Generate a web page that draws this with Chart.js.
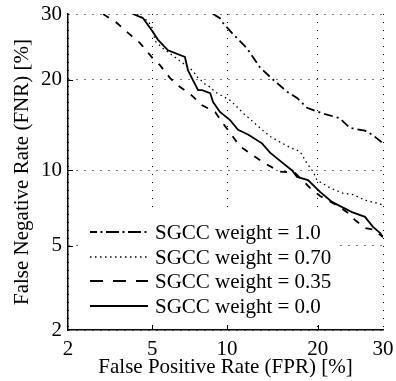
<!DOCTYPE html>
<html><head><meta charset="utf-8">
<script src="https://cdn.jsdelivr.net/npm/chart.js@4/dist/chart.umd.min.js"></script>
<style>html,body{margin:0;padding:0;background:#fff;}#wrap{width:396px;height:381px;}</style>
</head><body><div id="wrap"><canvas id="c" width="396" height="381"></canvas></div>
<script>
// ---- data (percent) ----
const tickValues = [2, 5, 10, 20, 30];
const tickLabels = ['2', '5', '10', '20', '30'];
const seriesLabels = ['SGCC weight = 1.0', 'SGCC weight = 0.70', 'SGCC weight = 0.35', 'SGCC weight = 0.0'];

const fprW100 = [8.86, 9.41, 9.66, 10.52, 11.8, 13.1, 14.39, 16.11, 17.32, 18.59, 20.74, 23.1, 24.68, 25.8, 27.03, 28.16, 29.2, 30.0];
const fnrW100 = [30.0, 29.3, 28.5, 26.7, 24.5, 21.7, 20.1, 18.4, 17.6, 16.4, 15.7, 15.2, 14.1, 13.95, 13.8, 13.4, 12.9, 12.5];

const fprW70 = [4.28, 4.8, 5.0, 5.15, 5.55, 6.56, 7.4, 7.7, 8.3, 8.64, 9.02, 9.66, 10.26, 10.88, 11.62, 11.9, 13.31, 14.17, 14.94, 16.46, 17.7, 18.59, 19.38, 19.91, 21.72, 23.6, 25.14, 27.03, 28.98, 30.0];
const fnrW70 = [30.0, 28.8, 27.7, 25.6, 24.5, 22.6, 21.2, 20.35, 19.3, 19.0, 18.35, 17.8, 17.3, 16.5, 15.55, 15.3, 13.9, 13.2, 12.8, 12.1, 11.7, 10.6, 9.9, 9.2, 8.6, 8.2, 8.1, 7.7, 7.5, 7.37];

const fprW35 = [2.98, 3.47, 3.90, 4.42, 4.80, 5.0, 5.40, 5.96, 6.56, 7.2, 8.04, 9.02, 9.66, 10.26, 11.15, 12.3, 13.63, 15.29, 17.07, 18.97, 20.33, 22.15, 24.22, 25.47, 27.03, 28.33, 30.0];
const fnrW35 = [30.0, 28.5, 26.9, 25.3, 23.8, 23.1, 22.0, 20.2, 19.0, 18.1, 16.7, 15.9, 14.6, 13.57, 12.2, 11.4, 10.6, 9.9, 9.8, 8.6, 8.0, 7.5, 6.9, 6.4, 5.94, 5.85, 5.44];

const fprW0 = [4.11, 4.56, 5.0, 5.3, 5.84, 6.86, 7.06, 7.4, 7.75, 8.04, 8.64, 8.86, 9.41, 10.26, 10.97, 11.9, 13.31, 14.17, 15.51, 16.71, 17.32, 18.71, 20.33, 22.0, 23.48, 24.99, 27.03, 28.33, 29.49, 30.0];
const fnrW0 = [30.0, 29.3, 27.2, 25.8, 24.2, 23.2, 21.3, 19.9, 18.6, 18.6, 18.2, 17.1, 15.9, 14.97, 13.9, 13.4, 12.5, 11.6, 10.7, 10.0, 9.46, 9.2, 8.3, 7.58, 7.23, 6.9, 6.6, 6.0, 5.66, 5.44];

// ---- normal deviate (probit) transform for DET axes ----
function probit(p) {
  const a = [-3.969683028665376e+01, 2.209460984245205e+02, -2.759285104469687e+02, 1.383577518672690e+02, -3.066479806614716e+01, 2.506628277459239e+00];
  const b = [-5.447609879822406e+01, 1.615858368580409e+02, -1.556989798598866e+02, 6.680131188771972e+01, -1.328068155288572e+01];
  const c = [-7.784894002430293e-03, -3.223964580411365e-01, -2.400758277161838e+00, -2.549732539343734e+00, 4.374664141464968e+00, 2.938163982698783e+00];
  const d = [7.784695709041462e-03, 3.224671290700398e-01, 2.445134137142996e+00, 3.754408661907416e+00];
  const pl = 0.02425, ph = 1 - pl;
  let q, r;
  if (p < pl) { q = Math.sqrt(-2 * Math.log(p)); return (((((c[0]*q+c[1])*q+c[2])*q+c[3])*q+c[4])*q+c[5]) / ((((d[0]*q+d[1])*q+d[2])*q+d[3])*q+1); }
  if (p <= ph) { q = p - 0.5; r = q*q; return (((((a[0]*r+a[1])*r+a[2])*r+a[3])*r+a[4])*r+a[5])*q / (((((b[0]*r+b[1])*r+b[2])*r+b[3])*r+b[4])*r+1); }
  q = Math.sqrt(-2 * Math.log(1 - p)); return -(((((c[0]*q+c[1])*q+c[2])*q+c[3])*q+c[4])*q+c[5]) / ((((d[0]*q+d[1])*q+d[2])*q+d[3])*q+1);
}
const pts = (xs, ys) => xs.map((v, i) => ({ x: probit(v / 100), y: probit(ys[i] / 100) }));

const FONT = "'Liberation Serif', 'Times New Roman', serif";
Chart.defaults.font.family = FONT;
Chart.defaults.color = '#000';

const styles = [
  { dash: [9, 4, 2, 4], width: 1.8, legendDash: [13, 3.5, 2, 3.5], legendOffset: 6 },
  { dash: [1.5, 3.5], width: 1.3, legendDash: [1.5, 3.5], legendOffset: 0 },
  { dash: [7, 8], width: 1.8, legendDash: [13, 10], legendOffset: 0 },
  { dash: [], width: 1.8, legendDash: [], legendOffset: 0 }
];
const series = [pts(fprW100, fnrW100), pts(fprW70, fnrW70), pts(fprW35, fnrW35), pts(fprW0, fnrW0)];

const datasets = series.map((d, i) => ({
  label: seriesLabels[i], data: d, borderColor: '#000', backgroundColor: '#000',
  borderWidth: styles[i].width, borderDash: styles[i].dash, pointRadius: 0, tension: 0, fill: false
}));

const setTicks = s => { s.ticks = tickValues.map(v => ({ value: probit(v / 100) })); };
const zeroPad = s => { s.paddingLeft = 0; s.paddingRight = 0; s.paddingTop = 0; s.paddingBottom = 0; };

const overlay = {
  id: 'overlay',
  afterDraw(chart) {
    const { ctx, chartArea: ca, scales: { x, y } } = chart;
    ctx.save();
    ctx.strokeStyle = '#000'; ctx.lineWidth = 1; ctx.setLineDash([]);
    tickValues.slice(1, -1).forEach(v => {
      const px = Math.round(x.getPixelForValue(probit(v / 100))) + 0.5;
      ctx.beginPath(); ctx.moveTo(px, ca.bottom); ctx.lineTo(px, ca.bottom - 5); ctx.stroke();
      const py = Math.round(y.getPixelForValue(probit(v / 100))) + 0.5;
      ctx.beginPath(); ctx.moveTo(ca.left, py); ctx.lineTo(ca.left + 5, py); ctx.stroke();
    });
    // legend box
    const bx = ca.left + 11, by = ca.top + 199, bw = 258, bh = 107;
    ctx.fillStyle = '#fff'; ctx.fillRect(bx, by, bw, bh);
    const rows = [218, 243, 267, 292];
    ctx.font = '21px ' + FONT; ctx.textBaseline = 'middle'; ctx.textAlign = 'left';
    datasets.forEach((ds, i) => {
      const ry = ca.top + rows[i];
      ctx.beginPath();
      ctx.setLineDash(styles[i].legendDash); ctx.lineDashOffset = styles[i].legendOffset;
      ctx.lineWidth = styles[i].width; ctx.strokeStyle = '#000';
      ctx.moveTo(ca.left + 22, ry); ctx.lineTo(ca.left + 80, ry); ctx.stroke();
      ctx.setLineDash([]);
      ctx.fillStyle = '#000';
      ctx.fillText(ds.label, ca.left + 87, ry + 1);
    });
    ctx.restore();
  }
};

new Chart(document.getElementById('c'), {
  type: 'line',
  data: { datasets },
  options: {
    responsive: false, animation: false, devicePixelRatio: 1,
    layout: { padding: { left: 0, right: 13, top: 14, bottom: 0 } },
    plugins: { legend: { display: false }, tooltip: { enabled: false } },
    scales: {
      x: {
        type: 'linear', min: probit(0.02), max: probit(0.30),
        afterBuildTicks: setTicks,
        afterFit: s => { s.height = 51; zeroPad(s); },
        ticks: { callback: (v, i) => tickLabels[i], font: { size: 21 }, color: '#000', padding: 7, maxRotation: 0, autoSkip: false },
        grid: { color: '#000', lineWidth: 1, drawTicks: false },
        border: { display: true, color: '#000', width: 1.5, dash: [1, 7] },
        title: { display: true, text: 'False Positive Rate (FPR) [%]', font: { size: 21 }, color: '#000', padding: { top: 0, bottom: 1 } }
      },
      y: {
        type: 'linear', min: probit(0.02), max: probit(0.30),
        afterBuildTicks: setTicks,
        afterFit: s => { s.width = 68; zeroPad(s); },
        ticks: { callback: (v, i) => tickLabels[i], font: { size: 21 }, color: '#000', padding: 6, autoSkip: false },
        grid: { color: '#000', lineWidth: 1, drawTicks: false },
        border: { display: true, color: '#000', width: 1.5, dash: [1, 7] },
        title: { display: true, text: 'False Negative Rate (FNR) [%]', font: { size: 21 }, color: '#000', padding: { top: 10, bottom: 0 } }
      }
    }
  },
  plugins: [overlay]
});
</script></body></html>
